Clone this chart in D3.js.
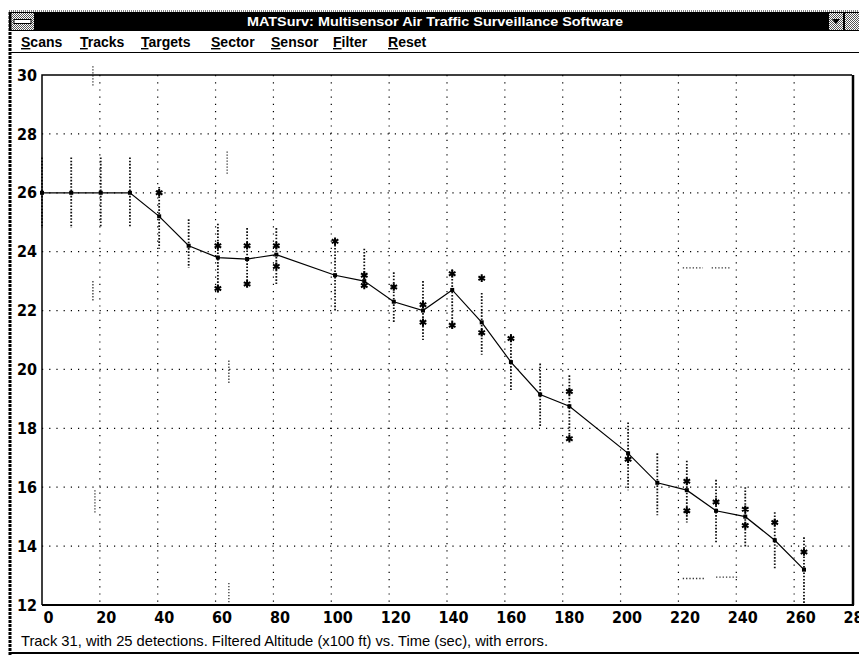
<!DOCTYPE html>
<html>
<head>
    <script src="https://d3js.org/d3.v7.min.js" charset="utf-8"></script>
    <style>
        body { margin: 0; background: #fff; }
        text { font-family: "Liberation Sans", Arial, sans-serif; }
        .tick text { font-family: "Liberation Sans Narrow", "DejaVu Sans Condensed", Arial, sans-serif; font-weight: bold; font-size: 16px; fill: #000; }
    </style>
</head>
<body>
    <script>
        // filtered track (time in sec, altitude x100 ft)
        var times = [0, 10.1, 20.3, 30.4, 40.5, 50.7, 60.8, 70.9, 81.0, 101.3, 111.4, 121.6, 131.7,
                     141.8, 152.0, 162.1, 172.2, 182.3, 202.6, 212.7, 222.9, 233.0, 243.1, 253.3, 263.4]
        var filtered = [26.0, 26.0, 26.0, 26.0, 25.2, 24.2, 23.8, 23.75, 23.9, 23.2, 23.0, 22.3, 22.0,
                        22.7, 21.6, 20.25, 19.15, 18.75, 17.15, 16.15, 15.9, 15.2, 15.0, 14.2, 13.2]
        var errHigh = [27.2, 27.2, 27.2, 27.2, 26.2, 25.1, 24.95, 24.8, 24.8, 24.45, 24.1, 23.3, 23.0,
                       23.4, 22.6, 21.2, 20.2, 19.8, 18.2, 17.15, 16.9, 16.25, 16.0, 15.15, 14.3]
        var errLow = [24.8, 24.8, 24.85, 24.85, 24.1, 23.45, 22.6, 22.8, 22.9, 22.0, 22.8, 21.6, 21.0,
                      21.4, 20.5, 19.3, 18.05, 17.6, 15.9, 15.05, 14.8, 14.1, 13.95, 13.2, 12.0]
        // raw detections
        var detTimes = [40.5, 60.8, 60.8, 70.9, 70.9, 81.0, 81.0, 101.3, 111.4, 111.4, 121.6, 131.7, 131.7,
                        141.8, 141.8, 152.0, 152.0, 162.1, 182.3, 182.3, 202.6, 222.9, 222.9, 233.0,
                        243.1, 243.1, 253.3, 263.4]
        var detValues = [26.0, 24.2, 22.75, 24.2, 22.9, 24.2, 23.5, 24.35, 23.2, 22.85, 22.8, 22.2, 21.6,
                         23.25, 21.5, 23.1, 21.25, 21.05, 19.25, 17.65, 16.95, 16.2, 15.2, 15.5,
                         15.25, 14.7, 14.8, 13.8]
        // leftover marks of other tracks on the screen
        var ghostT = [17.6, 17.6, 18.3, 64.0, 64.6, 64.6]
        var ghostTop = [30.3, 23.0, 15.9, 27.4, 20.3, 12.75]
        var ghostBottom = [29.6, 22.3, 15.1, 26.6, 19.5, 12.0]
        var ghostHT1 = [221.5, 231.5, 221.5, 233.0]
        var ghostHT2 = [228.5, 238.0, 229.0, 241.0]
        var ghostHV = [23.45, 23.45, 12.9, 12.95]

        var xTicks = d3.range(0, 281, 20)
        var yTicks = d3.range(12, 31, 2)
        var menuItems = ["Scans", "Tracks", "Targets", "Sector", "Sensor", "Filter", "Reset"]
        var menuX = [21, 80, 141, 211, 271, 333, 388]
        var title = "MATSurv: Multisensor Air Traffic Surveillance Software"
        var status = "Track  31, with 25 detections. Filtered Altitude (x100 ft) vs. Time (sec), with errors."

        var W = 859, H = 656
        var svg = d3.select("body")
            .append("svg")
            .attr("width", W)
            .attr("height", H)

        var defs = svg.append("defs")
        var pat = defs.append("pattern")
            .attr("id", "dither")
            .attr("width", 2).attr("height", 2)
            .attr("patternUnits", "userSpaceOnUse")
        pat.append("rect").attr("width", 2).attr("height", 2).attr("fill", "#fff")
        pat.append("rect").attr("width", 1).attr("height", 1).attr("fill", "#555")
        pat.append("rect").attr("x", 1).attr("y", 1).attr("width", 1).attr("height", 1).attr("fill", "#555")

        var x = d3.scaleLinear().domain([0, 280]).range([42, 852])
        var y = d3.scaleLinear().domain([12, 30]).range([605, 75])

        // window chrome
        svg.append("line").attr("x1", 9).attr("x2", W).attr("y1", 11).attr("y2", 11)
            .attr("stroke", "#000").attr("stroke-width", 1).attr("stroke-dasharray", "1,1")
        svg.append("rect").attr("x", 9).attr("y", 12).attr("width", W - 9).attr("height", 19).attr("fill", "#000")
        svg.append("rect").attr("x", 11).attr("y", 13).attr("width", 23).attr("height", 17).attr("fill", "url(#dither)")
        svg.append("rect").attr("x", 14).attr("y", 19.5).attr("width", 17).attr("height", 4)
            .attr("fill", "#fff").attr("stroke", "#000").attr("stroke-width", 1)
        svg.append("rect").attr("x", 829).attr("y", 13).attr("width", 14).attr("height", 17).attr("fill", "url(#dither)")
        svg.append("rect").attr("x", 845).attr("y", 13).attr("width", 14).attr("height", 17).attr("fill", "url(#dither)")
        svg.append("path").attr("d", "M832,19 L840,19 L836,24 Z").attr("fill", "#000")
        svg.append("text").attr("x", 435).attr("y", 26).attr("text-anchor", "middle")
            .attr("fill", "#fff").attr("font-weight", "bold").attr("font-size", 13)
            .attr("textLength", 376).attr("lengthAdjust", "spacingAndGlyphs")
            .text(title)

        var menu = svg.append("g")
        menuItems.forEach(function (m, i) {
            var t = menu.append("text").attr("x", menuX[i]).attr("y", 47)
                .attr("font-size", 14).attr("font-weight", "bold").attr("fill", "#000")
            t.append("tspan").attr("text-decoration", "underline").text(m[0])
            t.append("tspan").text(m.slice(1))
        })
        svg.append("line").attr("x1", 9).attr("x2", W).attr("y1", 52.5).attr("y2", 52.5)
            .attr("stroke", "#000").attr("stroke-width", 1)
        svg.append("line").attr("x1", 10).attr("x2", 10).attr("y1", 12).attr("y2", H)
            .attr("stroke", "#000").attr("stroke-width", 3).attr("stroke-dasharray", "3,1")

        // grid
        svg.append("g").selectAll("line")
            .data(xTicks.filter(function (d) { return d > 0 && d < 280 }))
            .enter().append("line")
            .attr("x1", function (d) { return x(d) }).attr("x2", function (d) { return x(d) })
            .attr("y1", y(30)).attr("y2", y(12))
            .attr("stroke", "#000").attr("stroke-width", 1.2).attr("stroke-dasharray", "1.2,6")
        svg.append("g").selectAll("line")
            .data(yTicks.filter(function (d) { return d > 12 && d < 30 }))
            .enter().append("line")
            .attr("x1", x(0)).attr("x2", x(280))
            .attr("y1", function (d) { return y(d) }).attr("y2", function (d) { return y(d) })
            .attr("stroke", "#000").attr("stroke-width", 1.2).attr("stroke-dasharray", "1.2,6")

        // ghost marks
        svg.append("g").selectAll("line")
            .data(ghostT)
            .enter().append("line")
            .attr("x1", function (d) { return x(d) }).attr("x2", function (d) { return x(d) })
            .attr("y1", function (d, i) { return y(ghostTop[i]) })
            .attr("y2", function (d, i) { return y(ghostBottom[i]) })
            .attr("stroke", "#333").attr("stroke-width", 1.3).attr("stroke-dasharray", "1.3,1.7")
        svg.append("g").selectAll("line")
            .data(ghostHV)
            .enter().append("line")
            .attr("x1", function (d, i) { return x(ghostHT1[i]) })
            .attr("x2", function (d, i) { return x(ghostHT2[i]) })
            .attr("y1", function (d) { return y(d) }).attr("y2", function (d) { return y(d) })
            .attr("stroke", "#333").attr("stroke-width", 1.3).attr("stroke-dasharray", "1.3,2")

        // error bars
        svg.append("g").selectAll("line")
            .data(times)
            .enter().append("line")
            .attr("x1", function (d) { return x(d) }).attr("x2", function (d) { return x(d) })
            .attr("y1", function (d, i) { return y(errHigh[i]) })
            .attr("y2", function (d, i) { return y(errLow[i]) })
            .attr("stroke", "#111").attr("stroke-width", 1.8).attr("stroke-dasharray", "1.6,1.6")

        // frame
        svg.append("path")
            .attr("d", "M" + x(0) + "," + y(12) + " V" + y(30) + " H" + x(280))
            .attr("fill", "none").attr("stroke", "#000").attr("stroke-width", 1.5)
        svg.append("line").attr("x1", x(0)).attr("x2", x(280) + 2).attr("y1", y(12)).attr("y2", y(12))
            .attr("stroke", "#000").attr("stroke-width", 2)
        svg.append("line").attr("x1", x(280) + 1).attr("x2", x(280) + 1).attr("y1", y(30)).attr("y2", y(12))
            .attr("stroke", "#000").attr("stroke-width", 2.5)

        // filtered line
        var line = d3.line()
            .x(function (d, i) { return x(times[i]) })
            .y(function (d) { return y(d) })
        svg.append("path").datum(filtered)
            .attr("d", line)
            .attr("fill", "none").attr("stroke", "#000").attr("stroke-width", 1.2)
        svg.append("g").selectAll("rect")
            .data(filtered)
            .enter().append("rect")
            .attr("x", function (d, i) { return x(times[i]) - 2 })
            .attr("y", function (d) { return y(d) - 2 })
            .attr("width", 4).attr("height", 4).attr("fill", "#000")

        // detections
        var star = d3.symbol().type(d3.symbolAsterisk).size(40)
        svg.append("g").selectAll("path")
            .data(detValues)
            .enter().append("path")
            .attr("d", star)
            .attr("transform", function (d, i) { return "translate(" + x(detTimes[i]) + "," + y(d) + ")" })
            .attr("fill", "none").attr("stroke", "#000").attr("stroke-width", 2)

        // axes
        var xAxis = svg.append("g")
            .attr("transform", "translate(0," + y(12) + ")")
            .call(d3.axisBottom(x).tickValues(xTicks).tickSize(0).tickPadding(7))
        xAxis.select(".domain").remove()
        xAxis.selectAll(".tick text").attr("dx", 6)

        var yAxis = svg.append("g")
            .attr("transform", "translate(" + x(0) + ",0)")
            .call(d3.axisLeft(y).tickValues(yTicks).tickSize(0).tickPadding(5))
        yAxis.select(".domain").remove()

        // status line
        svg.append("text").attr("x", 21).attr("y", 646)
            .attr("font-size", 15).attr("fill", "#000")
            .attr("textLength", 527).attr("lengthAdjust", "spacingAndGlyphs")
            .text(status)
        svg.append("line").attr("x1", 9).attr("x2", W).attr("y1", 653).attr("y2", 653)
            .attr("stroke", "#000").attr("stroke-width", 2)
    </script>
</body>
</html>
